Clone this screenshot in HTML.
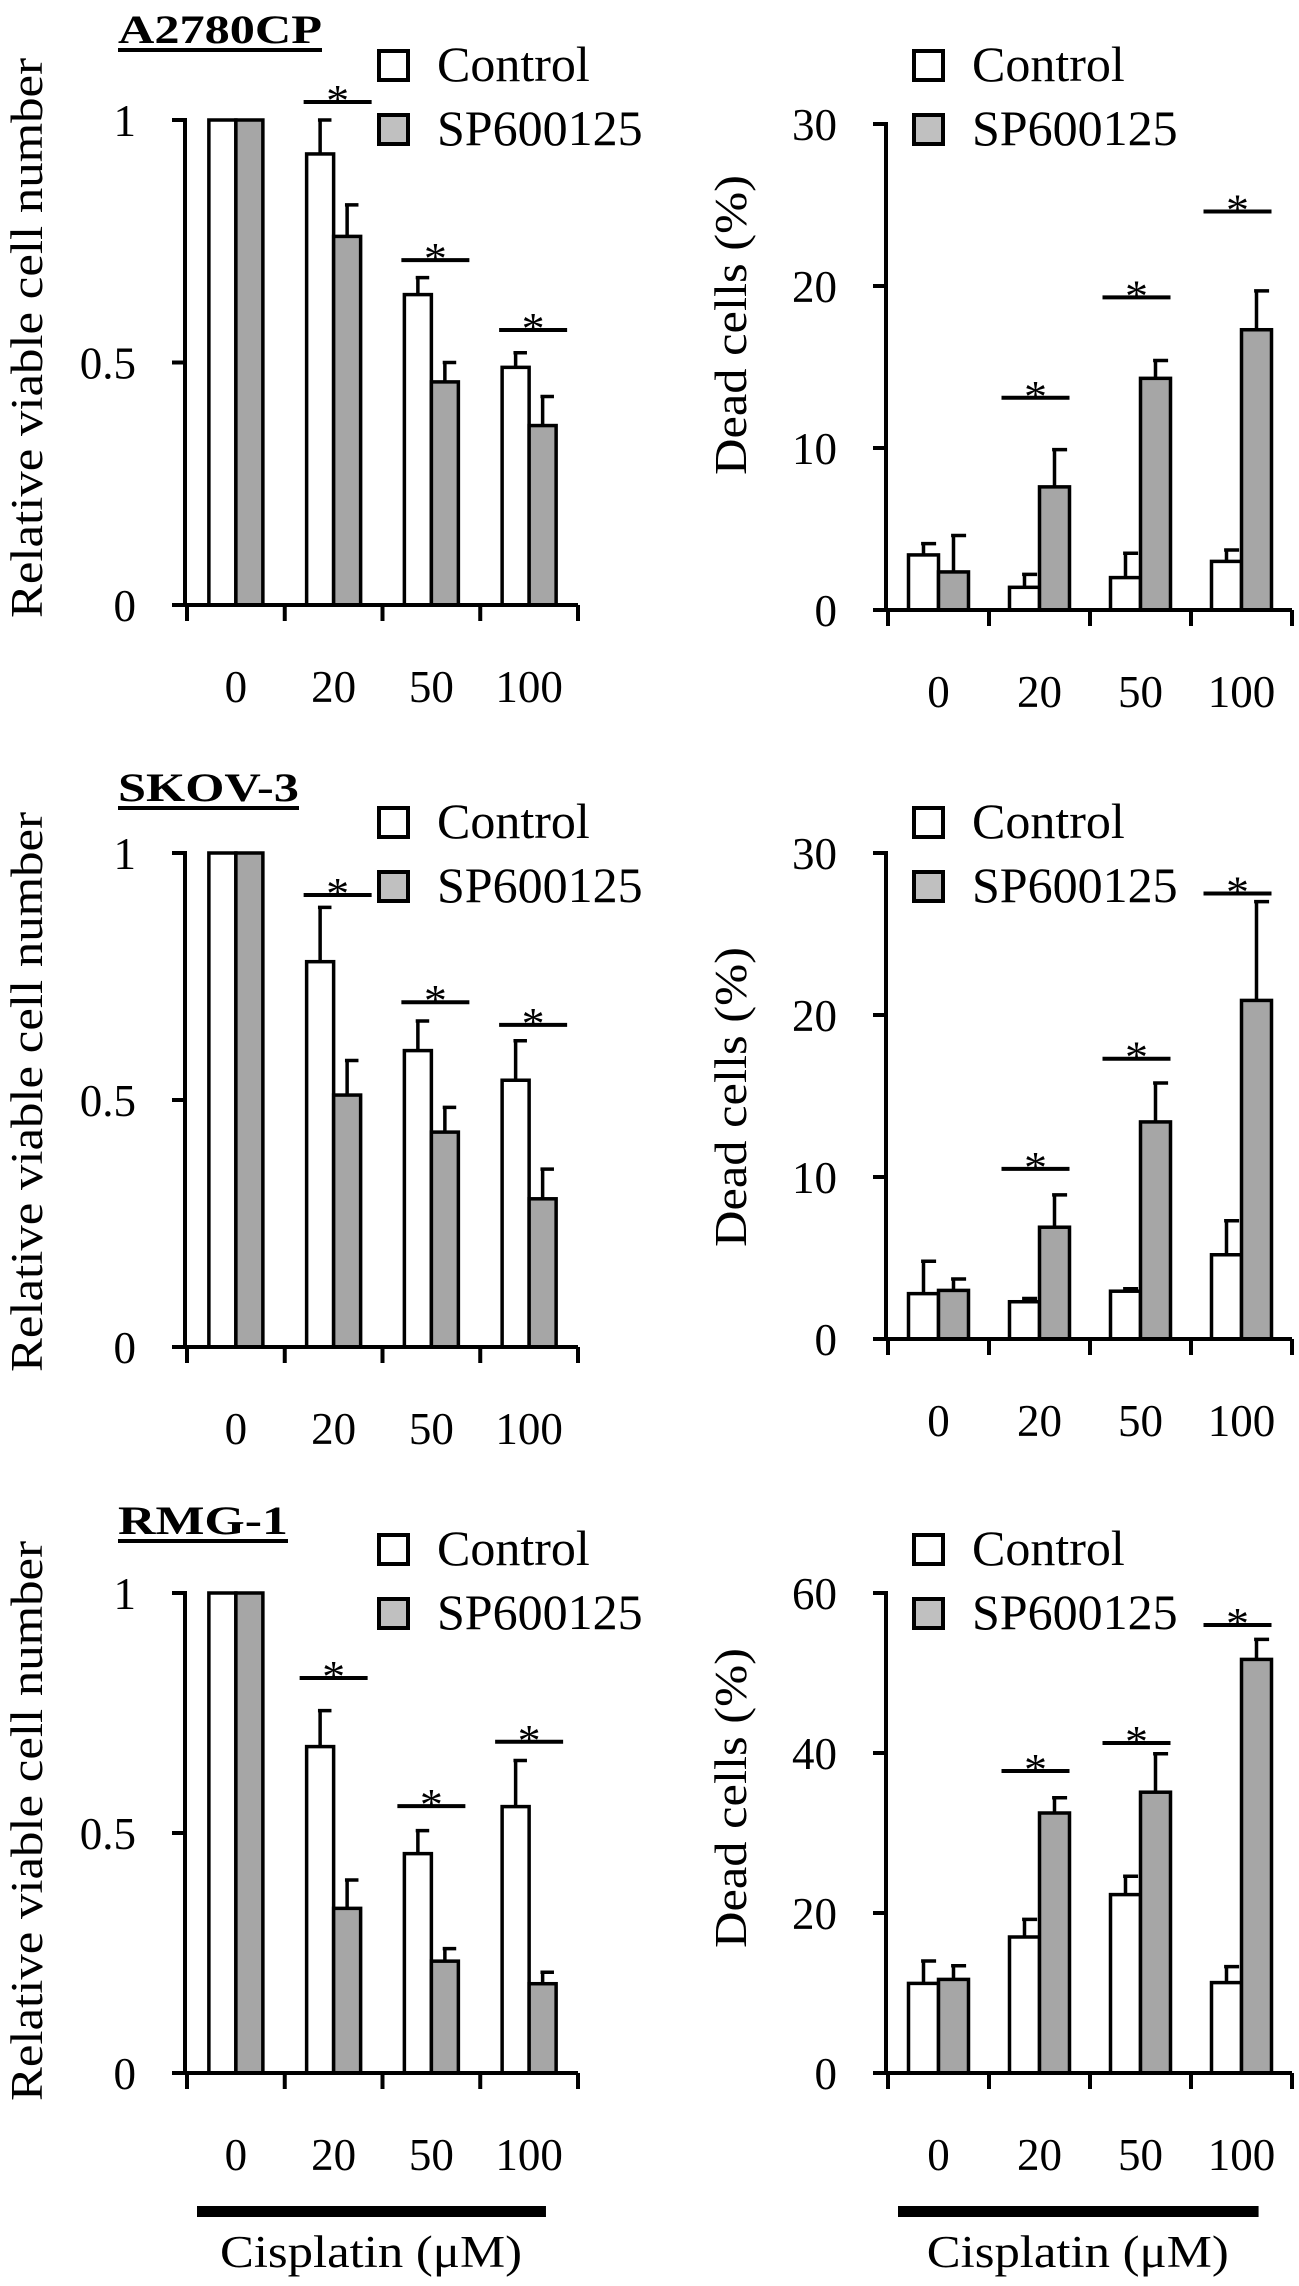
<!DOCTYPE html>
<html><head><meta charset="utf-8"><title>Viable cells and dead cells after cisplatin with and without SP600125</title>
<style>
html,body{margin:0;padding:0;background:#fff;}
svg{display:block;}
svg text{font-family:"Liberation Serif","DejaVu Serif","Times New Roman",serif;}
</style></head>
<body>
<svg id="fig" width="1299" height="2286" viewBox="0 0 1299 2286" font-family="Liberation Serif, DejaVu Serif, serif" xmlns="http://www.w3.org/2000/svg"></svg>
<script>
// ---- data ----
const categories = ["0", "20", "50", "100"];
const seriesNames = ["Control", "SP600125"];
const leftTickValues = [0, 0.5, 1];
const leftTickLabels = ["0", "0.5", "1"];
const rightTickValues30 = [0, 10, 20, 30];
const rightTickLabels30 = ["0", "10", "20", "30"];
const rightTickValues60 = [0, 20, 40, 60];
const rightTickLabels60 = ["0", "20", "40", "60"];
const cellLines = ["A2780CP", "SKOV-3", "RMG-1"];

// A2780CP
const a2780ViableControl = [1, 0.93, 0.64, 0.49];
const a2780ViableControlSd = [0, 0.07, 0.035, 0.03];
const a2780ViableSp = [1, 0.76, 0.46, 0.37];
const a2780ViableSpSd = [0, 0.065, 0.04, 0.06];
const a2780ViableSig = [null, 1.037, 0.711, 0.567];
const a2780DeadControl = [3.4, 1.4, 2.0, 3.0];
const a2780DeadControlSd = [0.7, 0.8, 1.5, 0.7];
const a2780DeadSp = [2.35, 7.6, 14.3, 17.3];
const a2780DeadSpSd = [2.25, 2.3, 1.1, 2.4];
const a2780DeadSig = [null, 13.1, 19.3, 24.6];
// SKOV-3
const skovViableControl = [1, 0.78, 0.60, 0.54];
const skovViableControlSd = [0, 0.11, 0.06, 0.08];
const skovViableSp = [1, 0.51, 0.435, 0.30];
const skovViableSpSd = [0, 0.07, 0.05, 0.06];
const skovViableSig = [null, 0.915, 0.698, 0.652];
const skovDeadControl = [2.8, 2.3, 2.95, 5.2];
const skovDeadControlSd = [2.0, 0.2, 0.15, 2.1];
const skovDeadSp = [3.0, 6.9, 13.4, 20.9];
const skovDeadSpSd = [0.7, 2.0, 2.4, 6.1];
const skovDeadSig = [null, 10.5, 17.3, 27.5];
// RMG-1
const rmgViableControl = [1, 0.68, 0.457, 0.555];
const rmgViableControlSd = [0, 0.075, 0.048, 0.096];
const rmgViableSp = [1, 0.343, 0.233, 0.186];
const rmgViableSpSd = [0, 0.059, 0.026, 0.024];
const rmgViableSig = [null, 0.823, 0.556, 0.69];
const rmgDeadControl = [11.2, 17.0, 22.3, 11.3];
const rmgDeadControlSd = [2.8, 2.2, 2.3, 2.0];
const rmgDeadSp = [11.7, 32.5, 35.1, 51.7];
const rmgDeadSpSd = [1.7, 1.9, 4.8, 2.5];
const rmgDeadSig = [null, 37.75, 41.25, 56];

// ---- rendering ----
const NS = "http://www.w3.org/2000/svg";
const FONT = "Liberation Serif, DejaVu Serif, serif";
const svg = document.getElementById("fig");
function mk(tag, attrs, parent) {
  const e = document.createElementNS(NS, tag);
  for (const k in attrs) e.setAttribute(k, attrs[k]);
  if (tag === "text") e.setAttribute("font-family", FONT);
  (parent || svg).appendChild(e);
  return e;
}

function drawPanel(p) {
  const g = mk("g", {});
  
  
  const y = v => p.y0 - (v / p.max) * (p.y0 - p.yTop);
  const catX = i => p.axisX + 2 + (i + 0.5) * p.catW;
  const bw = p.barW;

  for (let i = 0; i < categories.length; i++) {
    const cx = catX(i);
    const sets = [
      {v: p.ctrl[i], sd: p.ctrlSd[i], x: cx - bw, fill: "#ffffff", n: "control"},
      {v: p.sp[i], sd: p.spSd[i], x: cx, fill: "#a6a6a6", n: "sp600125"}
    ];
    for (const s of sets) {
      const r = mk("rect", {x: s.x, y: y(s.v), width: bw, height: p.y0 - y(s.v), fill: s.fill, stroke: "#000", "stroke-width": 3.5}, g);
      
      
      if (s.sd > 0) {
        const bx = s.x + bw / 2;
        const ey = y(s.v + s.sd);
        const el = mk("path", {d: "M" + bx + " " + y(s.v) + "V" + ey + "M" + (bx - bw * 0.08) + " " + ey + "H" + (s.x + bw * 0.92), stroke: "#000", "stroke-width": 3.5, fill: "none"}, g);
        
        
      }
    }
    if (p.sig[i] != null) {
      const sy = y(p.sig[i]);
      const ln = mk("line", {x1: cx + p.sigOff[0], x2: cx + p.sigOff[1], y1: sy, y2: sy, stroke: "#000", "stroke-width": 4}, g);
      
      
      const st = mk("text", {x: cx + (p.sigOff[0] + p.sigOff[1]) / 2, y: sy + 14, "font-size": 46, "text-anchor": "middle"}, g);
      st.textContent = "*";
      
      
    }
  }

  const xEnd = p.axisX + 2 + 4 * p.catW;
  const ax = mk("path", {d: "M" + (p.axisX - 13) + " " + p.yTop + "H" + p.axisX + "V" + p.y0 + "M" + (p.axisX - 13) + " " + p.y0 + "H" + xEnd, stroke: "#000", "stroke-width": 4, fill: "none"}, g);
  
  
  for (let i = 0; i <= 4; i++) {
    const tx = p.axisX + 2 + i * p.catW;
    const t = mk("line", {x1: tx, x2: tx, y1: p.y0, y2: p.y0 + 16, stroke: "#000", "stroke-width": 4}, g);
    
    
  }
  p.ticks.forEach((v, k) => {
    const ty = y(v);
    if (k > 0 && ty !== p.yTop) {
      const t = mk("line", {x1: p.axisX - 13, x2: p.axisX, y1: ty, y2: ty, stroke: "#000", "stroke-width": 4}, g);
      
      
    }
    const lb = mk("text", {x: p.axisX - 49, y: ty + 16, "font-size": 45, "text-anchor": "end"}, g);
    lb.textContent = p.tickLabels[k];
    
    
  });
  categories.forEach((c, i) => {
    const lb = mk("text", {x: catX(i), y: p.y0 + 97, "font-size": 45, "text-anchor": "middle"}, g);
    lb.textContent = c;
    
    
  });
  const yt = mk("text", {x: 0, y: 0, "font-size": 45, "text-anchor": "middle", textLength: p.ytLen, lengthAdjust: "spacingAndGlyphs", transform: "translate(" + p.ytX + "," + p.ytY + ") rotate(-90)"}, g);
  yt.textContent = p.ytitle;
  
  

  seriesNames.forEach((n, k) => {
    const ly = p.legY + k * 64;
    const b = mk("rect", {x: p.legX, y: ly, width: 29, height: 29, fill: k ? "#c0c0c0" : "#fff", stroke: "#000", "stroke-width": 4}, g);
    
    
    const t = mk("text", {x: p.legX + 58, y: ly + 30, "font-size": 50}, g);
    t.textContent = n;
    
    
  });

  if (p.title) {
    const tt = mk("text", {x: p.titleX, y: p.titleY, "font-size": 40, "font-weight": "bold", textLength: p.titleW, lengthAdjust: "spacingAndGlyphs"}, g);
    tt.textContent = p.title;
    
    
    const ul = mk("line", {x1: p.titleX, x2: p.titleX + p.titleW, y1: p.titleY + 7, y2: p.titleY + 7, stroke: "#000", "stroke-width": 4}, g);
    
    
  }
  if (p.cis) {
    const cb = mk("rect", {x: p.axisX + 12, y: p.y0 + 133, width: p.catW * 3.57, height: 11, fill: "#000"}, g);
    
    
    const ct = mk("text", {x: p.axisX + 12 + p.catW * 1.78, y: p.y0 + 194, "font-size": 45, "text-anchor": "middle", textLength: 302, lengthAdjust: "spacingAndGlyphs"}, g);
    ct.textContent = "Cisplatin (\u03BCM)";
    
    
  }
}

const L = {axisX: 185, catW: 97.75, barW: 27, ticks: leftTickValues, tickLabels: leftTickLabels, max: 1, ytitle: "Relative viable cell number", ytX: 42, ytLen: 560, legX: 379, sigOff: [-30, 38], titleX: 118};
const R = {axisX: 886, catW: 101, barW: 30, ytitle: "Dead cells (%)", ytX: 746, ytLen: 300, legX: 914, sigOff: [-38, 30]};

const panels = [
  Object.assign({}, L, {name: "a2780cp-viable-chart", y0: 605, yTop: 120, ctrl: a2780ViableControl, ctrlSd: a2780ViableControlSd, sp: a2780ViableSp, spSd: a2780ViableSpSd, sig: a2780ViableSig, ytY: 338, legY: 51, title: cellLines[0], titleY: 43, titleW: 204}),
  Object.assign({}, R, {name: "a2780cp-dead-chart", y0: 610, yTop: 124, max: 30, ticks: rightTickValues30, tickLabels: rightTickLabels30, ctrl: a2780DeadControl, ctrlSd: a2780DeadControlSd, sp: a2780DeadSp, spSd: a2780DeadSpSd, sig: a2780DeadSig, ytY: 325, legY: 51}),
  Object.assign({}, L, {name: "skov3-viable-chart", y0: 1347, yTop: 853, ctrl: skovViableControl, ctrlSd: skovViableControlSd, sp: skovViableSp, spSd: skovViableSpSd, sig: skovViableSig, ytY: 1092, legY: 808, title: cellLines[1], titleY: 801, titleW: 181}),
  Object.assign({}, R, {name: "skov3-dead-chart", y0: 1339, yTop: 853, max: 30, ticks: rightTickValues30, tickLabels: rightTickLabels30, ctrl: skovDeadControl, ctrlSd: skovDeadControlSd, sp: skovDeadSp, spSd: skovDeadSpSd, sig: skovDeadSig, ytY: 1097, legY: 808}),
  Object.assign({}, L, {name: "rmg1-viable-chart", y0: 2073, yTop: 1593, ctrl: rmgViableControl, ctrlSd: rmgViableControlSd, sp: rmgViableSp, spSd: rmgViableSpSd, sig: rmgViableSig, ytY: 1821, legY: 1535, title: cellLines[2], titleY: 1534, titleW: 170, cis: true, sigOff: [-34, 34]}),
  Object.assign({}, R, {name: "rmg1-dead-chart", y0: 2073, yTop: 1593, max: 60, ticks: rightTickValues60, tickLabels: rightTickLabels60, ctrl: rmgDeadControl, ctrlSd: rmgDeadControlSd, sp: rmgDeadSp, spSd: rmgDeadSpSd, sig: rmgDeadSig, ytY: 1798, legY: 1535, cis: true})
];
panels.forEach(drawPanel);
</script>
</body></html>
